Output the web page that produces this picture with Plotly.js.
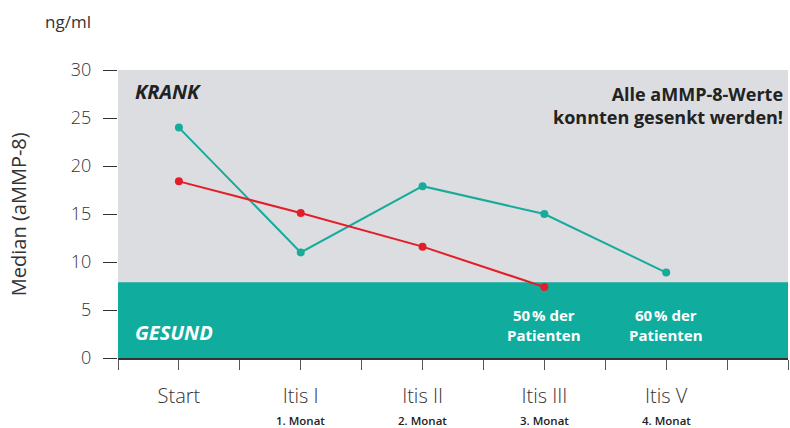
<!DOCTYPE html>
<html>
<head>
<meta charset="utf-8">
<script src="https://cdn.plot.ly/plotly-3.0.1.min.js"></script>
<style>html,body{margin:0;padding:0;background:#fff;}#chart{width:790px;height:428px;}</style>
</head>
<body>
<div id="chart"></div>
<script>
// Data
const categories = ["Start", "Itis I", "Itis II", "Itis III", "Itis V"];
const months = ["", "1. Monat", "2. Monat", "3. Monat", "4. Monat"];
const tealValues = [24, 11, 17.9, 15, 8.9];
const redValues = [18.4, 15.1, 11.6, 7.4];
const healthyThreshold = 7.9;
const yTicks = [0, 5, 10, 15, 20, 25, 30];
const patientNotes = [
  {cat: 3, text: "50\u202f% der<br>Patienten"},
  {cat: 4, text: "60\u202f% der<br>Patienten"}
];

const FONT = "'Open Sans', sans-serif";
const idx = categories.map((_, i) => i);

// x tick positions at every half category
const tickvals = [];
const ticktext = [];
for (let v = -0.5; v <= 5.0001; v += 0.5) {
  tickvals.push(v);
  const i = Math.round(v);
  ticktext.push(Math.abs(v - i) < 1e-6 && i < categories.length ? categories[i] : "");
}

const traces = [
  {
    x: idx, y: tealValues, type: "scatter", mode: "lines+markers",
    line: {color: "#17ab9b", width: 2},
    marker: {color: "#17ab9b", size: 8},
    hoverinfo: "skip"
  },
  {
    x: idx.slice(0, redValues.length), y: redValues, type: "scatter", mode: "lines+markers",
    line: {color: "#e31e2a", width: 2},
    marker: {color: "#e31e2a", size: 8},
    hoverinfo: "skip"
  }
];

const annotations = [];
months.forEach((m, i) => {
  if (!m) return;
  annotations.push({x: i, xref: "x", y: -0.2153, yref: "paper", text: m, showarrow: false, borderpad: 0,
    font: {family: FONT, size: 11.5, color: "#222", weight: 600}, xanchor: "center", yanchor: "middle"});
});
patientNotes.forEach(p => {
  annotations.push({x: p.cat, xref: "x", y: 3.4, yref: "y", text: p.text, showarrow: false,
    font: {family: FONT, size: 15, color: "#ffffff", weight: 700}, xanchor: "center", yanchor: "middle"});
});
annotations.push(
  {x: 0.0224, xref: "paper", y: 0.925, yref: "paper", text: "<b><i>KRANK</i></b>", showarrow: false,
   font: {family: FONT, size: 20, color: "#222"}, xanchor: "left", yanchor: "middle"},
  {x: 0.0224, xref: "paper", y: 0.087, yref: "paper", text: "<b><i>GESUND</i></b>", showarrow: false,
   font: {family: FONT, size: 20, color: "#ffffff"}, xanchor: "left", yanchor: "middle"},
  {x: 0.9955, xref: "paper", y: 0.877, yref: "paper", text: "<b>Alle aMMP-8-Werte<br>konnten gesenkt werden!</b>",
   showarrow: false, align: "right", font: {family: FONT, size: 18, color: "#222"}, xanchor: "right", yanchor: "middle"},
  {x: -0.0746, xref: "paper", y: 1.1667, yref: "paper", text: "ng/ml", showarrow: false,
   font: {family: FONT, size: 17, color: "#333"}, xanchor: "center", yanchor: "middle"},
  {x: -0.149, xref: "paper", y: 0.5, yref: "paper", text: "Median (aMMP-8)", showarrow: false, textangle: -90,
   font: {family: FONT, size: 20, color: "#333"}, xanchor: "center", yanchor: "middle"}
);

const layout = {
  width: 790, height: 428,
  margin: {l: 118, r: 2, t: 70, b: 70},
  paper_bgcolor: "#ffffff",
  plot_bgcolor: "#dcdde0",
  showlegend: false,
  font: {family: FONT, color: "#333"},
  xaxis: {
    range: [-0.5, 5.0], tickmode: "array", tickvals: tickvals, ticktext: ticktext,
    ticks: "outside", ticklen: 10, tickcolor: "#555", tickwidth: 1,
    showgrid: false, zeroline: false, showline: true, linecolor: "#333", linewidth: 1.5,
    tickfont: {family: FONT, size: 20, color: "#333", weight: 300}, ticklabelstandoff: 9, fixedrange: true
  },
  yaxis: {
    range: [0, 30], tickmode: "array", tickvals: yTicks,
    ticks: "outside", ticklen: 14, tickcolor: "#333", tickwidth: 1,
    showgrid: false, zeroline: false, showline: false,
    tickfont: {family: FONT, size: 18, color: "#333", weight: 300}, ticklabelstandoff: 8, fixedrange: true
  },
  shapes: [
    {type: "rect", xref: "paper", yref: "y", x0: 0, x1: 1, y0: 0, y1: healthyThreshold,
     fillcolor: "#10ad9e", line: {width: 0}, layer: "below"}
  ],
  annotations: annotations
};

Plotly.newPlot("chart", traces, layout, {displayModeBar: false, staticPlot: true});
</script>
</body>
</html>
